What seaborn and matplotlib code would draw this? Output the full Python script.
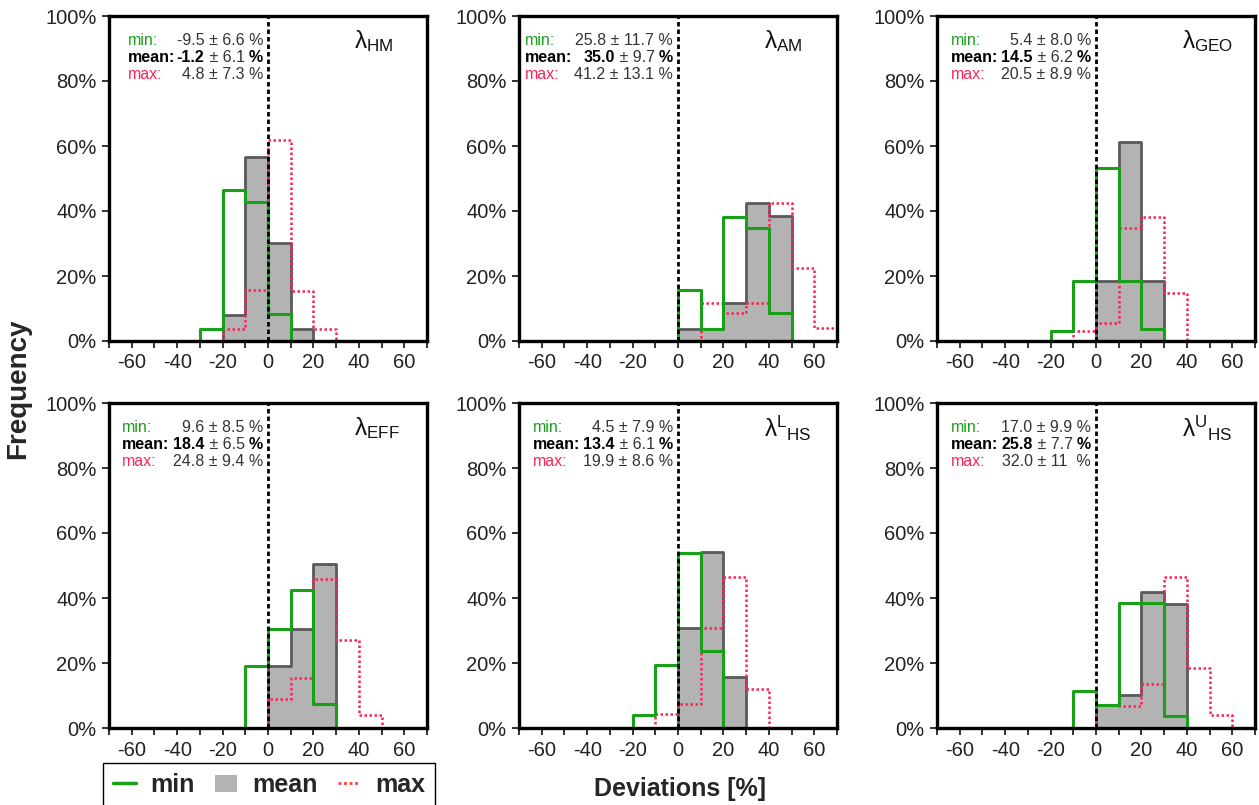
import numpy as np
import matplotlib
matplotlib.use('Agg')
import matplotlib.pyplot as plt
from matplotlib.lines import Line2D
from matplotlib.patches import Patch
from matplotlib.ticker import PercentFormatter, MultipleLocator
import seaborn as sns

# bins of 10 % deviation, -70 ... 70
bin_edges = [-70, -60, -50, -40, -30, -20, -10, 0, 10, 20, 30, 40, 50, 60, 70]
bin_mids = [-65, -55, -45, -35, -25, -15, -5, 5, 15, 25, 35, 45, 55, 65]

# frequency [%] per bin
hm_min = [0, 0, 0, 0, 3.7, 46.5, 42.8, 8.2, 0, 0, 0, 0, 0, 0]
hm_mean = [0, 0, 0, 0, 0, 8.0, 56.5, 30.0, 3.7, 0, 0, 0, 0, 0]
hm_max = [0, 0, 0, 0, 0, 3.7, 15.6, 61.7, 15.3, 3.7, 0, 0, 0, 0]

am_min = [0, 0, 0, 0, 0, 0, 0, 15.7, 3.7, 38.3, 34.7, 8.7, 0, 0]
am_mean = [0, 0, 0, 0, 0, 0, 0, 3.7, 3.7, 11.8, 42.4, 38.5, 0, 0]
am_max = [0, 0, 0, 0, 0, 0, 0, 0, 11.8, 8.7, 11.8, 42.4, 22.4, 4.1]

geo_min = [0, 0, 0, 0, 0, 3.1, 18.5, 53.3, 18.5, 3.8, 0, 0, 0, 0]
geo_mean = [0, 0, 0, 0, 0, 0, 0, 18.5, 61.2, 18.5, 0, 0, 0, 0]
geo_max = [0, 0, 0, 0, 0, 0, 3.1, 5.6, 34.8, 38.2, 14.8, 0, 0, 0]

eff_min = [0, 0, 0, 0, 0, 0, 19.0, 30.6, 42.4, 7.5, 0, 0, 0, 0]
eff_mean = [0, 0, 0, 0, 0, 0, 0, 19.0, 30.6, 50.4, 0, 0, 0, 0]
eff_max = [0, 0, 0, 0, 0, 0, 0, 9.0, 15.5, 45.8, 27.0, 3.9, 0, 0]

hsl_min = [0, 0, 0, 0, 0, 3.9, 19.3, 54.0, 23.6, 0, 0, 0, 0, 0]
hsl_mean = [0, 0, 0, 0, 0, 0, 0, 30.8, 54.0, 15.7, 0, 0, 0, 0]
hsl_max = [0, 0, 0, 0, 0, 0, 4.2, 7.5, 30.8, 46.4, 11.9, 0, 0, 0]

hsu_min = [0, 0, 0, 0, 0, 0, 11.3, 7.0, 38.5, 38.5, 3.6, 0, 0, 0]
hsu_mean = [0, 0, 0, 0, 0, 0, 0, 7.0, 10.3, 41.7, 38.3, 0, 0, 0]
hsu_max = [0, 0, 0, 0, 0, 0, 0, 7.2, 6.9, 13.5, 46.4, 18.6, 3.9, 0]

panel_titles = [r'λ$_{\mathrm{HM}}$', r'λ$_{\mathrm{AM}}$', r'λ$_{\mathrm{GEO}}$',
                r'λ$_{\mathrm{EFF}}$', r'λ$^{\mathrm{L}}{}_{\mathrm{HS}}$',
                r'λ$^{\mathrm{U}}{}_{\mathrm{HS}}$']
# mean deviation and std per estimator: (min, mean, max)
stat_values = [('-9.5', '-1.2', '4.8'), ('25.8', '35.0', '41.2'), ('5.4', '14.5', '20.5'),
               ('9.6', '18.4', '24.8'), ('4.5', '13.4', '19.9'), ('17.0', '25.8', '32.0')]
stat_sds = [('6.6', '6.1', '7.3'), ('11.7', '9.7', '13.1'), ('8.0', '6.2', '8.9'),
            ('8.5', '6.5', '9.4'), ('7.9', '6.1', '8.6'), ('9.9', '7.7', '11 ')]

panel_data = [(hm_min, hm_mean, hm_max), (am_min, am_mean, am_max),
              (geo_min, geo_mean, geo_max), (eff_min, eff_mean, eff_max),
              (hsl_min, hsl_mean, hsl_max), (hsu_min, hsu_mean, hsu_max)]

GREEN = '#19a019'
RED = '#ff2255'
GRAY = '#b3b3b3'
GRAY_EDGE = '#5a5a5a'
TXT = '#333333'

sns.set_style('ticks')
plt.rcParams['font.family'] = ['Liberation Sans', 'DejaVu Sans']
plt.rcParams['axes.unicode_minus'] = False
plt.rcParams['mathtext.fontset'] = 'custom'
plt.rcParams['mathtext.rm'] = 'Liberation Sans'
plt.rcParams['mathtext.it'] = 'Liberation Sans:italic'
plt.rcParams['mathtext.bf'] = 'Liberation Sans:bold'

W, H = 1259, 805
fig = plt.figure(figsize=(W / 100, H / 100), dpi=100)

col_x = [109, 519, 937]
row_top = [16, 403]
ax_w, ax_h = 318, 325
label_x = [0.06, 0.02, 0.045, 0.04, 0.045, 0.045]
line_y = [0.925, 0.873, 0.82]

for k, (d_min, d_mean, d_max) in enumerate(panel_data):
    r, c = divmod(k, 3)
    ax = fig.add_axes([col_x[c] / W, 1 - (row_top[r] + ax_h) / H, ax_w / W, ax_h / H])

    sns.histplot(x=bin_mids, weights=d_mean, bins=bin_edges, element='step', fill=True,
                 color=GRAY, alpha=1, edgecolor=GRAY_EDGE, linewidth=2.0, ax=ax, zorder=2)
    sns.histplot(x=bin_mids, weights=d_max, bins=bin_edges, element='step', fill=False,
                 color=RED, linewidth=1.8, linestyle=(0, (1.0, 1.0)), ax=ax, zorder=3)
    sns.histplot(x=bin_mids, weights=d_min, bins=bin_edges, element='step', fill=False,
                 color=GREEN, linewidth=2.2, ax=ax, zorder=4)
    ax.axvline(0, color='black', linewidth=2.0, linestyle=(0, (1.6, 1.1)), zorder=5)

    ax.set_xlim(-70, 70)
    ax.set_ylim(0, 100)
    ax.set_xlabel('')
    ax.set_ylabel('')
    ax.xaxis.set_major_locator(MultipleLocator(20))
    ax.set_xticks([-70, -50, -30, -10, 10, 30, 50, 70], minor=True)
    ax.set_yticks([0, 20, 40, 60, 80, 100])
    ax.yaxis.set_major_formatter(PercentFormatter(100, decimals=0))
    ax.tick_params(which='both', direction='out', length=5, width=1.3, color='#222222',
                   labelsize=14.5, labelcolor='#222222', pad=4)
    for sp in ax.spines.values():
        sp.set_visible(True)
        sp.set_linewidth(2.4)
        sp.set_color('black')
        sp.set_zorder(6)

    ax.text(0.772, 0.922, panel_titles[k], transform=ax.transAxes, ha='left', va='center',
            fontsize=17.5, color='#111111')

    vals, sds = stat_values[k], stat_sds[k]
    xl, xr = label_x[k], 0.485
    # min line
    ax.text(xl, line_y[0], 'min:', transform=ax.transAxes, ha='left', va='center',
            fontsize=11.5, color=GREEN)
    ax.text(xr, line_y[0], f'{vals[0]} ± {sds[0]} %', transform=ax.transAxes, ha='right',
            va='center', fontsize=11.5, color=TXT)
    # mean line (bold parts)
    ax.text(xl, line_y[1], 'mean:', transform=ax.transAxes, ha='left', va='center',
            fontsize=11.5, color='black', fontweight='bold')
    t1 = ax.text(xr, line_y[1], '%', transform=ax.transAxes, ha='right', va='center',
                 fontsize=11.5, color='black', fontweight='bold')
    t2 = ax.annotate(f' ± {sds[1]} ', xy=(0, 0), xycoords=t1, ha='right', va='bottom',
                     fontsize=11.5, color=TXT)
    ax.annotate(vals[1], xy=(0, 0), xycoords=t2, ha='right', va='bottom',
                fontsize=11.5, color='black', fontweight='bold')
    # max line
    ax.text(xl, line_y[2], 'max:', transform=ax.transAxes, ha='left', va='center',
            fontsize=11.5, color=RED)
    ax.text(xr, line_y[2], f'{vals[2]} ± {sds[2]} %', transform=ax.transAxes, ha='right',
            va='center', fontsize=11.5, color=TXT)

fig.text(18 / W, 1 - 389 / H, 'Frequency', rotation=90, ha='center', va='center',
         fontsize=20, fontweight='bold')
fig.text(680 / W, 1 - 789 / H, 'Deviations [%]', ha='center', va='center',
         fontsize=18, fontweight='bold')

handles = [Line2D([0], [0], color=GREEN, linewidth=2.5),
           Patch(facecolor=GRAY, edgecolor='none'),
           Line2D([0], [0], color='#ff4433', linewidth=2, linestyle=(0, (1, 1)))]
fig.legend(handles, ['min', 'mean', 'max'], loc='upper left',
           bbox_to_anchor=(103 / W, 1 - 763 / H), ncol=3, frameon=True, fancybox=False,
           edgecolor='black', framealpha=1, handlelength=0.9, handletextpad=0.6,
           columnspacing=0.8, borderpad=0.4, borderaxespad=0,
           prop={'weight': 'bold', 'size': 18})

fig.savefig('out.png', dpi=100)
